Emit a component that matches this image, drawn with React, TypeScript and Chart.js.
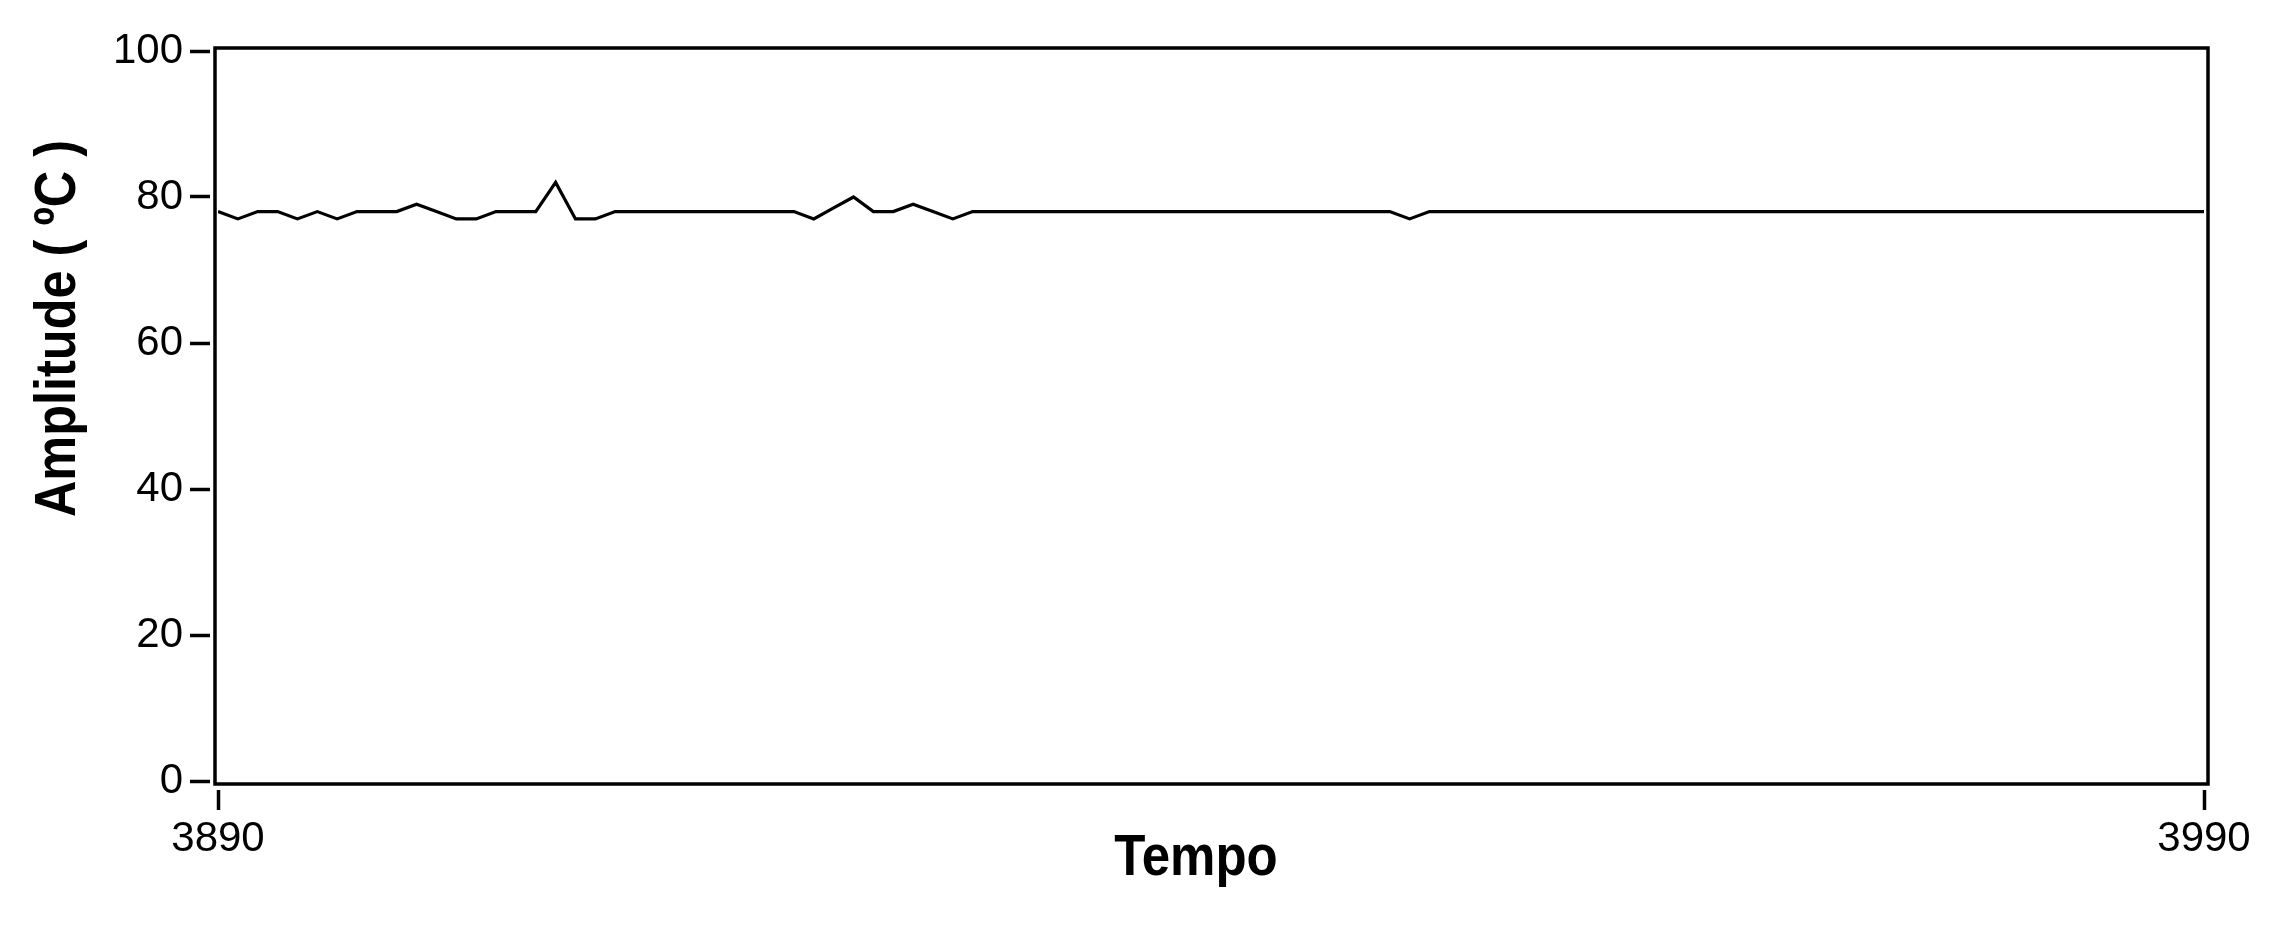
import { useEffect, useRef } from "react";
import { Chart, registerables } from "chart.js";

Chart.register(...registerables);

// Sample times (s)
const tempo = [
  3890, 3891, 3892, 3893, 3894, 3895, 3896, 3897, 3898, 3899,
  3900, 3901, 3902, 3903, 3904, 3905, 3906, 3907, 3908, 3909,
  3910, 3911, 3912, 3913, 3914, 3915, 3916, 3917, 3918, 3919,
  3920, 3921, 3922, 3923, 3924, 3925, 3926, 3927, 3928, 3929,
  3930, 3931, 3932, 3933, 3934, 3935, 3936, 3937, 3938, 3939,
  3940, 3941, 3942, 3943, 3944, 3945, 3946, 3947, 3948, 3949,
  3950, 3951, 3952, 3953, 3954, 3955, 3956, 3957, 3958, 3959,
  3960, 3961, 3962, 3963, 3964, 3965, 3966, 3967, 3968, 3969,
  3970, 3971, 3972, 3973, 3974, 3975, 3976, 3977, 3978, 3979,
  3980, 3981, 3982, 3983, 3984, 3985, 3986, 3987, 3988, 3989,
  3990,
];

// Temperature (ºC)
const amplitude = [
  78, 77, 78, 78, 77, 78, 77, 78, 78, 78,
  79, 78, 77, 77, 78, 78, 78, 82, 77, 77,
  78, 78, 78, 78, 78, 78, 78, 78, 78, 78,
  77, 78.5, 80, 78, 78, 79, 78, 77, 78, 78,
  78, 78, 78, 78, 78, 78, 78, 78, 78, 78,
  78, 78, 78, 78, 78, 78, 78, 78, 78, 78,
  77, 78, 78, 78, 78, 78, 78, 78, 78, 78,
  78, 78, 78, 78, 78, 78, 78, 78, 78, 78,
  78, 78, 78, 78, 78, 78, 78, 78, 78, 78,
  78, 78, 78, 78, 78, 78, 78, 78, 78, 78,
  78,
];

const xTicks = [3890, 3990];
const yTicks = [0, 20, 40, 60, 80, 100];
const xTitle = "Tempo";
const yTitle = "Amplitude ( ºC )";

const FONT = "'Liberation Sans', Arial, sans-serif";

const framePlugin = {
  id: "frameAndTitles",
  afterDraw(chart: any) {
    const { ctx, chartArea: a } = chart;
    ctx.save();
    ctx.strokeStyle = "#000";
    ctx.lineWidth = 3.5;
    ctx.strokeRect(a.left - 3, a.top - 3, a.right - a.left + 7, a.bottom - a.top + 6);
    ctx.restore();

    ctx.save();
    ctx.fillStyle = "#000";
    ctx.font = `bold 58px ${FONT}`;
    ctx.textAlign = "center";
    ctx.textBaseline = "alphabetic";
    ctx.translate(1196, 875);
    ctx.scale(0.88, 1);
    ctx.fillText(xTitle, 0, 0);
    ctx.restore();

    ctx.save();
    ctx.fillStyle = "#000";
    ctx.font = `bold 58px ${FONT}`;
    ctx.textAlign = "center";
    ctx.textBaseline = "alphabetic";
    ctx.translate(75, 328.5);
    ctx.rotate(-Math.PI / 2);
    ctx.scale(0.87, 1);
    ctx.fillText(yTitle, 0, 0);
    ctx.restore();
  },
};

export default function App() {
  const ref = useRef<HTMLCanvasElement | null>(null);

  useEffect(() => {
    if (!ref.current) return;
    const chart = new Chart(ref.current, {
      type: "line",
      data: {
        datasets: [
          {
            data: tempo.map((t, i) => ({ x: t, y: amplitude[i] })),
            borderColor: "#000",
            borderWidth: 3.2,
            pointRadius: 0,
            tension: 0,
            fill: false,
          },
        ],
      },
      options: {
        animation: false,
        responsive: false,
        devicePixelRatio: 1,
        layout: { padding: { top: 51, right: 70, left: 0, bottom: 0 } },
        plugins: {
          legend: { display: false },
          tooltip: { enabled: false },
          title: { display: false },
        },
        scales: {
          x: {
            type: "linear",
            min: 3890,
            max: 3990,
            border: { display: false },
            grid: {
              drawOnChartArea: false,
              drawTicks: true,
              tickLength: 29,
              tickWidth: 3.5,
              tickColor: "#000",
              tickBorderDash: [0, 9, 20, 100],
            },
            ticks: {
              autoSkip: false,
              maxRotation: 0,
              padding: 4,
              color: "#000",
              font: { family: FONT, size: 42 },
              callback: (v: any) => String(v),
            },
            afterBuildTicks: (scale: any) => {
              scale.ticks = xTicks.map((v) => ({ value: v }));
            },
            afterFit: (scale: any) => {
              scale.height = 145;
            },
          },
          y: {
            type: "linear",
            min: 0,
            max: 100,
            border: { display: false },
            grid: {
              drawOnChartArea: false,
              drawTicks: true,
              tickLength: 28,
              tickWidth: 3.5,
              tickColor: "#000",
              tickBorderDash: [20, 100],
            },
            ticks: {
              autoSkip: false,
              padding: 7,
              color: "#000",
              font: { family: FONT, size: 42 },
              callback: (v: any) => String(v),
            },
            afterBuildTicks: (scale: any) => {
              scale.ticks = yTicks.map((v) => ({ value: v }));
            },
            afterFit: (scale: any) => {
              scale.width = 218;
            },
          },
        },
      },
      plugins: [framePlugin],
    });
    return () => chart.destroy();
  }, []);

  return (
    <div style={{ position: "fixed", left: 0, top: 0, width: 2274, height: 926, background: "#fff" }}>
      <canvas ref={ref} width={2274} height={926} style={{ display: "block" }} />
    </div>
  );
}
